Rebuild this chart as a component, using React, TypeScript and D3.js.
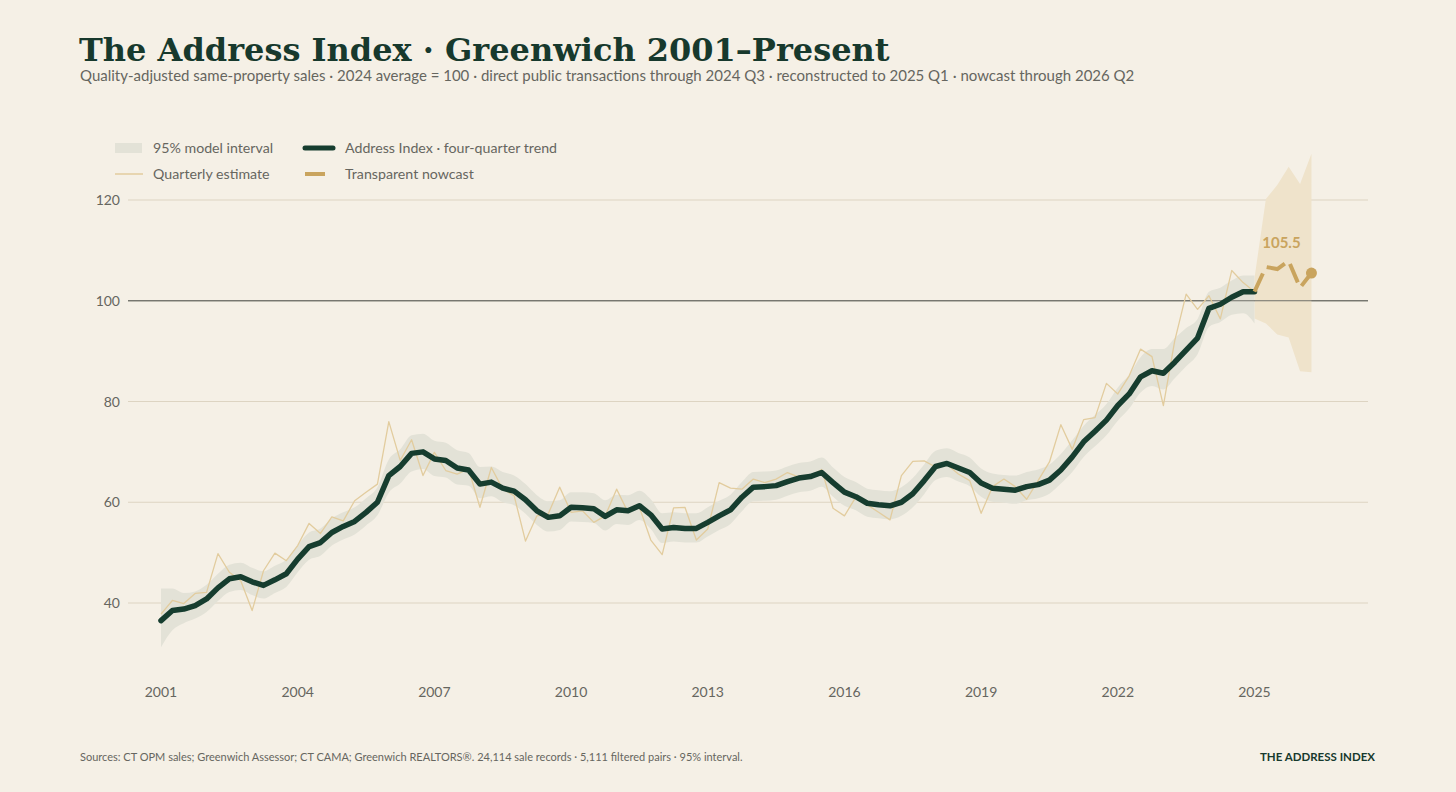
import React from 'react';
import * as d3 from 'd3';

// ---------- DATA ----------
const startYear = 2001; // 2001 Q1
const trend = [
  36.5, 38.5, 38.8, 39.5, 40.8, 43.0, 44.8, 45.2, 44.2, 43.5, 44.6, 45.8,
  48.7, 51.2, 52.0, 54.0, 55.2, 56.2, 58.0, 60.0, 65.3, 67.1, 69.7, 70.0,
  68.6, 68.3, 66.8, 66.4, 63.6, 64.0, 62.8, 62.2, 60.5, 58.3, 57.0, 57.3,
  59.0, 58.9, 58.7, 57.2, 58.5, 58.3, 59.3, 57.5, 54.7, 55.0, 54.8, 54.8,
  56.0, 57.3, 58.5, 61.0, 63.0, 63.1, 63.3, 64.1, 64.8, 65.1, 65.9, 63.9,
  62.0, 61.1, 59.8, 59.5, 59.3, 60.0, 61.7, 64.3, 67.1, 67.7, 66.8, 65.9,
  63.8, 62.8, 62.6, 62.4, 63.1, 63.5, 64.4, 66.4, 69.0, 72.0, 74.1, 76.3,
  79.2, 81.5, 84.9, 86.1, 85.6, 87.8, 90.2, 92.6, 98.5, 99.3, 100.7, 101.8,
  101.8,
];
const quarterly = [
  37.8, 40.5, 39.9, 41.9, 42.1, 49.8, 46.1, 44.4, 38.5, 46.4, 49.9, 48.4,
  51.4, 55.8, 53.8, 57.1, 56.3, 60.3, 62.0, 63.6, 76.0, 68.3, 72.4, 65.3,
  69.9, 66.3, 65.6, 66.6, 59.0, 66.9, 62.6, 61.3, 52.3, 57.3, 57.7, 63.0,
  58.0, 58.3, 56.0, 57.3, 62.6, 58.0, 59.0, 52.5, 49.6, 58.9, 59.0, 52.5,
  54.7, 63.9, 62.8, 62.6, 64.6, 63.9, 64.6, 65.9, 65.0, 65.1, 66.5, 58.8,
  57.3, 61.0, 59.5, 58.0, 56.5, 65.3, 68.1, 68.2, 67.0, 67.5, 65.6, 64.3,
  57.8, 63.1, 64.6, 63.1, 60.6, 64.3, 68.0, 75.4, 70.5, 76.4, 76.8, 83.6,
  81.5, 85.1, 90.4, 88.9, 79.2, 92.1, 101.3, 98.3, 101.0, 96.4, 106.0, 103.6,
  101.8,
];
const bandHigh = [
  42.9, 42.9, 42.0, 42.3, 43.6, 45.8, 47.6, 48.0, 47.0, 46.3, 47.4, 48.6,
  51.5, 54.0, 54.8, 56.8, 58.0, 59.0, 60.8, 63.0, 68.5, 70.5, 73.3, 73.6,
  72.2, 71.8, 70.3, 69.8, 67.0, 67.1, 66.0, 65.3, 63.6, 61.4, 60.2, 60.4,
  62.0, 62.0, 61.8, 60.4, 61.5, 61.4, 62.3, 60.6, 57.8, 58.0, 57.8, 57.8,
  59.0, 60.3, 61.5, 64.0, 66.0, 66.1, 66.3, 67.1, 67.8, 68.1, 68.9, 66.9,
  65.0, 64.0, 62.7, 62.4, 62.2, 63.0, 64.8, 67.5, 70.2, 70.7, 69.8, 68.9,
  66.7, 65.7, 65.4, 65.3, 66.0, 66.5, 67.5, 69.6, 72.3, 75.2, 77.3, 79.5,
  82.8, 85.3, 88.8, 90.4, 90.4, 92.6, 94.6, 96.4, 101.8, 102.6, 104.0, 105.0,
  105.0,
];
const bandLow = [
  31.2, 34.6, 36.0, 36.9, 38.2, 40.4, 42.2, 42.6, 41.6, 40.9, 42.0, 43.2,
  46.1, 48.6, 49.4, 51.4, 52.6, 53.6, 55.4, 57.4, 61.9, 63.7, 66.1, 66.6,
  65.2, 64.9, 63.5, 63.3, 60.8, 61.2, 60.0, 59.4, 57.7, 55.5, 54.2, 54.5,
  56.2, 56.1, 55.9, 54.4, 55.7, 55.5, 56.5, 54.7, 51.9, 52.2, 52.0, 52.0,
  53.2, 54.5, 55.7, 58.2, 60.2, 60.3, 60.5, 61.3, 62.0, 62.3, 63.1, 61.1,
  59.3, 58.4, 57.1, 56.8, 56.6, 57.3, 59.0, 61.6, 64.4, 65.0, 64.1, 63.2,
  61.1, 60.1, 59.9, 59.7, 60.4, 60.8, 61.7, 63.7, 66.0, 69.0, 71.1, 73.3,
  76.2, 78.6, 81.8, 83.1, 82.4, 84.6, 87.0, 89.4, 94.8, 95.8, 97.2, 97.5,
  95.5,
];
// nowcast: 2025 Q1 .. 2026 Q2
const nowcastStart = 96;
const nowcast = [101.8, 106.7, 106.3, 107.9, 102.6, 105.5];
const nowcastHigh = [104.5, 120.2, 123.0, 126.6, 123.2, 129.2];
const nowcastLow = [96.5, 95.5, 93.3, 92.7, 86.0, 85.8];
const yTicks = [40, 60, 80, 100, 120];
const xTicks = [2001, 2004, 2007, 2010, 2013, 2016, 2019, 2022, 2025];

const title = 'The Address Index · Greenwich 2001–Present';
const subtitle =
  'Quality-adjusted same-property sales · 2024 average = 100 · direct public transactions through 2024 Q3 · reconstructed to 2025 Q1 · nowcast through 2026 Q2';
const source =
  'Sources: CT OPM sales; Greenwich Assessor; CT CAMA; Greenwich REALTORS®. 24,114 sale records · 5,111 filtered pairs · 95% interval.';

// ---------- STYLE ----------
const C = {
  bg: '#F5F0E6',
  grid: '#DDD4C2',
  ref: '#6F6F68',
  band: '#E3E2D7',
  quarterly: '#E2CC9E',
  trend: '#163D2F',
  gold: '#C9A45E',
  nowBand: '#EFE3CB',
  text: '#66665F',
  title: '#17392D',
};
const SANS = 'Lato, "Noto Sans", sans-serif';

export default function App() {
  const W = 1456;
  const H = 792;
  const x = d3.scaleLinear().domain([2001, 2025]).range([161, 1254.5]);
  const y = d3.scaleLinear().domain([40, 120]).range([603, 200]);
  const tq = (i: number) => startYear + i / 4;

  const idx = trend.map((_, i) => i);
  const bandArea = d3
    .area<number>()
    .x((i) => x(tq(i)))
    .y0((i) => y(bandLow[i]))
    .y1((i) => y(bandHigh[i]))
    .curve(d3.curveMonotoneX)(idx);
  const qLine = d3
    .line<number>()
    .x((i) => x(tq(i)))
    .y((i) => y(quarterly[i]))(idx);
  const tLine = d3
    .line<number>()
    .x((i) => x(tq(i)))
    .y((i) => y(trend[i]))(idx);
  const nIdx = nowcast.map((_, i) => i);
  const nowArea = d3
    .area<number>()
    .x((i) => x(tq(nowcastStart + i)))
    .y0((i) => y(nowcastLow[i]))
    .y1((i) => y(nowcastHigh[i]))(nIdx);
  const nowLine = d3
    .line<number>()
    .x((i) => x(tq(nowcastStart + i)))
    .y((i) => y(nowcast[i]))(nIdx);
  const lastI = nowcast.length - 1;
  const lastX = x(tq(nowcastStart + lastI));
  const lastY = y(nowcast[lastI]);

  const gx0 = 128;
  const gx1 = 1368;

  return (
    <svg
      width={W}
      height={H}
      style={{ position: 'absolute', left: 0, top: 0, display: 'block' }}
    >
      <rect x={0} y={0} width={W} height={H} fill={C.bg} />
      <text
        x={79}
        y={61}
        fontFamily='"DejaVu Serif", "Liberation Serif", serif'
        fontWeight={700}
        fontSize={32}
        fill={C.title}
      >
        {title}
      </text>
      <text x={80} y={81} fontFamily={SANS} fontSize={15} fill={C.text}>
        {subtitle}
      </text>

      {/* legend */}
      <g fontFamily={SANS} fontSize={14.2} fill={C.text}>
        <rect x={115} y={143} width={27} height={10} fill={C.band} />
        <text x={153} y={153}>95% model interval</text>
        <line x1={305} x2={333} y1={148} y2={148} stroke={C.trend} strokeWidth={5} strokeLinecap="round" />
        <text x={345} y={153}>Address Index · four-quarter trend</text>
        <line x1={115} x2={143} y1={174} y2={174} stroke={C.quarterly} strokeWidth={1.5} />
        <text x={153} y={179}>Quarterly estimate</text>
        <line x1={305} x2={325} y1={174} y2={174} stroke={C.gold} strokeWidth={4} />
        <text x={345} y={179}>Transparent nowcast</text>
      </g>

      {/* grid */}
      {yTicks.map((v) => (
        <g key={v}>
          <line
            x1={gx0}
            x2={gx1}
            y1={y(v)}
            y2={y(v)}
            stroke={v === 100 ? C.ref : C.grid}
            strokeWidth={1}
          />
          <text
            x={120}
            y={y(v) + 5}
            textAnchor="end"
            fontFamily={SANS}
            fontSize={14}
            fill={C.text}
          >
            {v}
          </text>
        </g>
      ))}
      {xTicks.map((yr) => (
        <text
          key={yr}
          x={x(yr)}
          y={697}
          textAnchor="middle"
          fontFamily={SANS}
          fontSize={14}
          fill={C.text}
        >
          {yr}
        </text>
      ))}

      {/* series */}
      <path d={nowArea || ''} fill={C.nowBand} />
      <path d={bandArea || ''} fill={C.band} />
      <line x1={gx0} x2={gx1} y1={y(100)} y2={y(100)} stroke={C.ref} strokeWidth={1} />
      <path d={qLine || ''} fill="none" stroke={C.quarterly} strokeWidth={1.3} strokeLinejoin="round" />
      <path
        d={tLine || ''}
        fill="none"
        stroke={C.trend}
        strokeWidth={5.5}
        strokeLinejoin="round"
        strokeLinecap="round"
      />
      <path
        d={nowLine || ''}
        fill="none"
        stroke={C.gold}
        strokeWidth={4}
        strokeDasharray="20 8"
      />
      <circle cx={lastX} cy={lastY} r={5.5} fill={C.gold} />
      <text
        x={lastX - 30}
        y={lastY - 25}
        textAnchor="middle"
        fontFamily={SANS}
        fontWeight={700}
        fontSize={15}
        fill={C.gold}
      >
        {nowcast[lastI].toFixed(1)}
      </text>

      {/* footer */}
      <text x={80} y={761} fontFamily={SANS} fontSize={11} fill={C.text}>
        {source}
      </text>
      <text
        x={1375}
        y={761}
        textAnchor="end"
        fontFamily={SANS}
        fontWeight={700}
        fontSize={11.5}
        fill={C.title}
      >
        THE ADDRESS INDEX
      </text>
    </svg>
  );
}
